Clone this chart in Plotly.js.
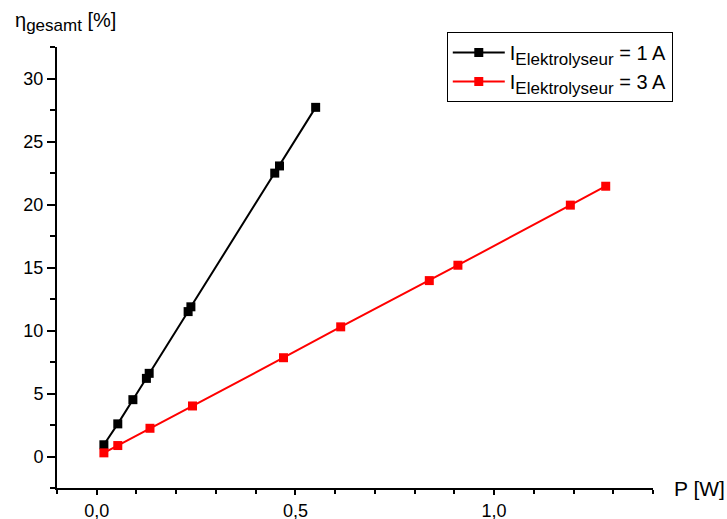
<!DOCTYPE html>
<html>
<head>
<meta charset="utf-8">
<script src="https://cdn.plot.ly/plotly-3.0.1.min.js"></script>
<style>
  html, body { margin: 0; padding: 0; background: #fff; }
  #chart { width: 727px; height: 519px; }
</style>
</head>
<body>
<div id="chart"></div>
<script>
// Gesamtwirkungsgrad über der Leistung, für zwei Elektrolyseur-Ströme
const power1A = [0.018, 0.053, 0.091, 0.125, 0.132, 0.230, 0.237, 0.448, 0.460, 0.551];
const eta1A   = [0.93, 2.59, 4.51, 6.20, 6.60, 11.50, 11.88, 22.49, 23.06, 27.71];

const power3A = [0.018, 0.053, 0.134, 0.241, 0.470, 0.614, 0.837, 0.909, 1.192, 1.281];
const eta3A   = [0.29, 0.87, 2.24, 4.01, 7.84, 10.29, 13.96, 15.18, 19.95, 21.45];

const seriesNames = [
  'I<sub><span style="font-size:17px">Elektrolyseur</span></sub> = 1 A',
  'I<sub><span style="font-size:17px">Elektrolyseur</span></sub> = 3 A'
];
const xTickVals = [0, 0.5, 1.0];
const xTickText = ['0,0', '0,5', '1,0'];
const yTickVals = [0, 5, 10, 15, 20, 25, 30];
const yTickText = ['0', '5', '10', '15', '20', '25', '30'];

const FONT = '"Liberation Sans", Arial, sans-serif';

const traces = [
  {
    x: power1A, y: eta1A, name: seriesNames[0],
    type: 'scatter', mode: 'lines+markers',
    line: { color: '#000000', width: 2 },
    marker: { symbol: 'square', size: 9, color: '#000000' }
  },
  {
    x: power3A, y: eta3A, name: seriesNames[1],
    type: 'scatter', mode: 'lines+markers',
    line: { color: '#ff0000', width: 2 },
    marker: { symbol: 'square', size: 9, color: '#ff0000' }
  }
];

const axisCommon = {
  showgrid: false, zeroline: false,
  showline: true, linecolor: '#000', linewidth: 2,
  ticks: 'outside', ticklen: 8, tickwidth: 2, tickcolor: '#000',
  tickfont: { family: FONT, size: 18, color: '#000' },
  fixedrange: true
};

const layout = {
  width: 727, height: 519,
  margin: { l: 57, r: 74, t: 47, b: 31, pad: 0 },
  paper_bgcolor: '#fff', plot_bgcolor: '#fff',
  font: { family: FONT, color: '#000' },
  separators: ',.',
  showlegend: true,
  xaxis: Object.assign({}, axisCommon, {
    range: [-0.1, 1.4],
    ticklen: 5,
    tickmode: 'array', tickvals: xTickVals, ticktext: xTickText,
    minor: { dtick: 0.1, tick0: 0, ticks: 'outside', ticklen: 4, tickwidth: 2, tickcolor: '#000', showgrid: false }
  }),
  yaxis: Object.assign({}, axisCommon, {
    range: [-2.5, 32.5],
    tickmode: 'array', tickvals: yTickVals, ticktext: yTickText,
    minor: { dtick: 2.5, tick0: 0, ticks: 'outside', ticklen: 5, tickwidth: 2, tickcolor: '#000', showgrid: false }
  }),
  legend: {
    x: 0.654, y: 1.034, xanchor: 'left', yanchor: 'top',
    bordercolor: '#000', borderwidth: 1, bgcolor: '#fff',
    font: { family: FONT, size: 20, color: '#000' },
    itemwidth: 52, tracegroupgap: 0, tracegroupgap: 0
  },
  annotations: [
    {
      text: 'η<sub><span style="font-size:17px">gesamt</span></sub> [%]',
      xref: 'paper', yref: 'paper', x: -0.074, y: 1.057,
      xanchor: 'left', yanchor: 'middle', showarrow: false,
      font: { family: FONT, size: 20, color: '#000' }
    },
    {
      text: 'P [W]',
      xref: 'paper', yref: 'paper', x: 1.032, y: 0,
      xanchor: 'left', yanchor: 'middle', showarrow: false,
      font: { family: FONT, size: 21, color: '#000' }
    }
  ]
};

Plotly.newPlot('chart', traces, layout, { displayModeBar: false, staticPlot: true });
</script>
</body>
</html>
